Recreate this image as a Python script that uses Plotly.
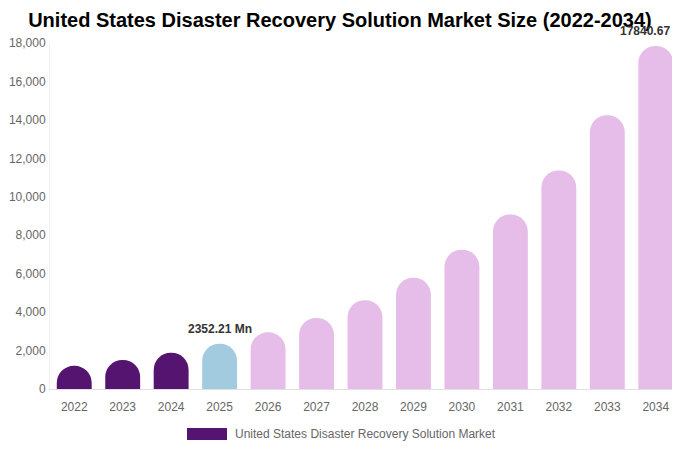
import plotly.graph_objects as go

# Market size values (USD Mn)
years = ["2022", "2023", "2024", "2025", "2026", "2027", "2028",
         "2029", "2030", "2031", "2032", "2033", "2034"]
market_size = [1204, 1506, 1882, 2352.21, 2946, 3690, 4621,
               5787, 7248, 9077, 11368, 14237, 17840.67]
bar_colors = ["#541470", "#541470", "#541470", "#a3cbe0"] + ["#e6bde8"] * 9
series_name = "United States Disaster Recovery Solution Market"
labelled_years = ["2025", "2034"]

fig = go.Figure()
fig.add_trace(go.Bar(
    x=years, y=market_size, name=series_name,
    marker=dict(color=bar_colors, cornerradius="50%", line_width=0),
    showlegend=False, hoverinfo="x+y",
))

# value labels above highlighted bars (category index, since the labels look numeric)
for yr in labelled_years:
    i = years.index(yr)
    v = market_size[i]
    fig.add_annotation(x=i, y=v, text=f"<b>{v:.2f} Mn</b>", showarrow=False,
                       yanchor="bottom", yshift=6,
                       font=dict(size=12, color="#333333", family="Liberation Sans, Arial"))

# legend drawn as a wide swatch + text
fig.add_shape(type="rect", xref="paper", yref="paper",
              x0=(187 - 50) / 630, x1=(227 - 50) / 630,
              y0=-51 / 346, y1=-39 / 346,
              fillcolor="#541470", line_width=0)
fig.add_annotation(xref="paper", yref="paper", x=(233 - 50) / 630, y=-45 / 346,
                   text=series_name, showarrow=False, xanchor="left", yanchor="middle",
                   font=dict(size=12, color="#666666", family="Liberation Sans, Arial"))

# page body has an 8px margin, so the figure is trimmed to fit the window
fig.update_layout(
    width=672, height=442,
    margin=dict(l=42, r=0, t=35, b=61),
    paper_bgcolor="white", plot_bgcolor="white",
    bargap=0.28,
    title=dict(text="<b>United States Disaster Recovery Solution Market Size (2022-2034)</b>",
               x=0.494, xanchor="center", y=0.973, yanchor="middle",
               font=dict(size=20, color="#000000", family="Liberation Sans, Arial")),
    font=dict(family="Liberation Sans, Arial", color="#666666", size=12),
)
# fixed range so the end label does not widen the axis
fig.update_xaxes(type="category", range=[-0.5, len(years) - 0.5], automargin=False,
                 showgrid=False, showline=True, linecolor="#e0e0e0", linewidth=1,
                 ticks="", ticklabelstandoff=7, tickfont=dict(size=12, color="#666666"))
fig.update_yaxes(range=[0, 18000], dtick=2000, tickformat=",", automargin=False,
                 showgrid=False, showline=True, linecolor="#eeeeee", linewidth=1,
                 zeroline=False, ticks="", ticklabelstandoff=1,
                 tickfont=dict(size=12, color="#666666"))

fig.write_html("out.html")
